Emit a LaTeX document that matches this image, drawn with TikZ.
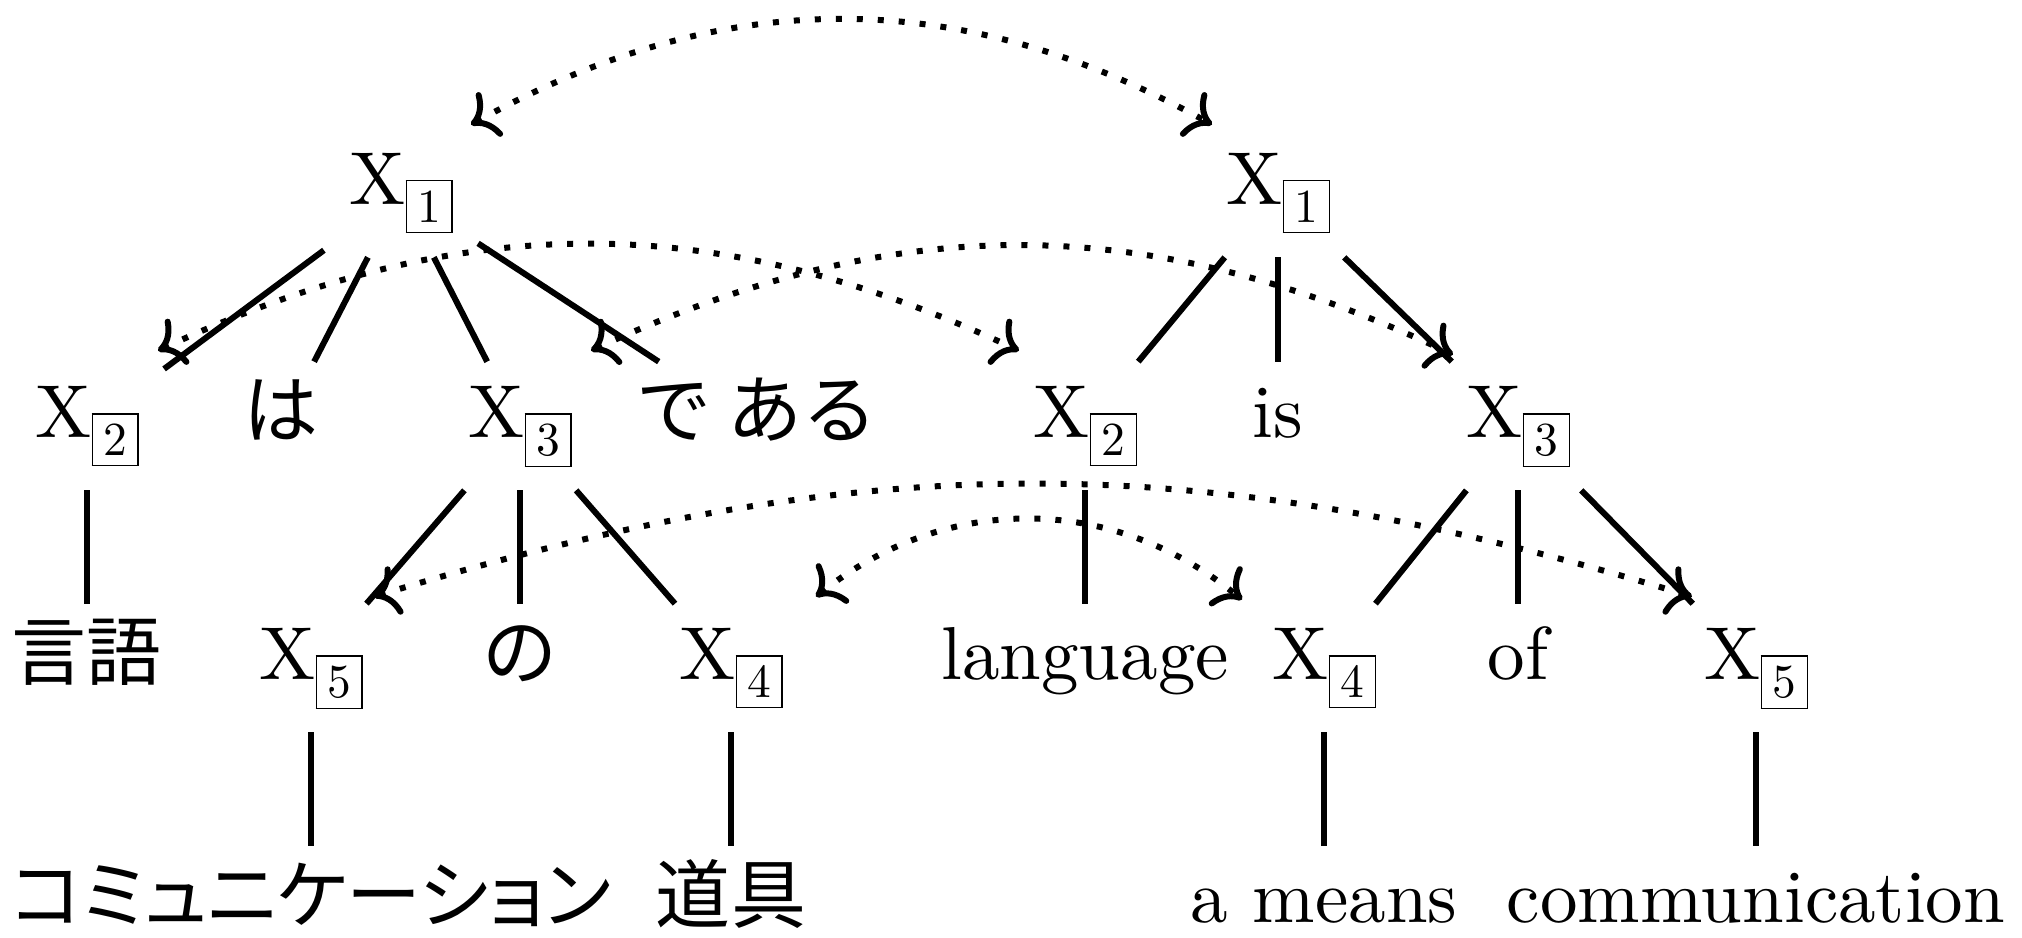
\documentclass[tikz,border=0pt]{standalone}
\usepackage{fontspec}
\setmainfont{lmroman10-regular.otf}
\newfontfamily\jp{Noto Sans CJK JP}
\newfontfamily\jpp[RawFeature=+palt]{Noto Sans CJK JP}
\usetikzlibrary{arrows.meta}
\newcommand\bx[1]{\raisebox{-0.36cm}{\setlength\fboxsep{0.18cm}\setlength\fboxrule{0.025cm}\fbox{\rule{0pt}{0.65cm}\hspace{0.03cm}{\fontsize{27}{30}\selectfont #1}\hspace{0.03cm}}}}
\newcommand\Xs[1]{X\bx{#1}}
\begin{document}
\begin{tikzpicture}[x=0.02cm,y=0.02cm,
  every node/.style={font=\fontsize{42.7}{50}\selectfont, text height=1.04cm, text depth=0.56cm, inner xsep=0.5cm, inner ysep=0.48cm, anchor=base},
  edge/.style={line width=0.12cm},
  arc/.style={line width=0.12cm, dash pattern=on 0.12cm off 0.3cm, arrows={To[scale=1.5]-To[scale=1.5]}}]
\useasboundingbox (0,0) rectangle (2022,937);
% row 1
\node (x1l) at (401,732) {\Xs{1}};
\node (x1r) at (1278,732) {\Xs{1}};
% row 2
\node (x2l) at (87,499) {\Xs{2}};
\node (ha) at (281,499) {\jp は};
\node (x3l) at (520,499) {\Xs{3}};
\node (dearu) at (757,499) {\jp で ある};
\node (x2r) at (1085,499) {\Xs{2}};
\node (is) at (1278,499) {is};
\node (x3r) at (1518,499) {\Xs{3}};
% row 3
\node (gengo) at (87,257) {\jp 言語};
\node (x5l) at (311,257) {\Xs{5}};
\node (no) at (520,257) {\jp の};
\node (x4l) at (731,257) {\Xs{4}};
\node (lang) at (1085,257) {language};
\node (x4r) at (1324,257) {\Xs{4}};
\node (of) at (1518,257) {of};
\node (x5r) at (1756,257) {\Xs{5}};
% row 4
\node (comm) at (311,15) {\jpp コミュニケーション};
\node (dougu) at (731,15) {\jp 道具};
\node (means) at (1324,15) {a means};
\node (commu) at (1756,15) {communication};
% tree edges
\draw[edge] (x1l) -- (x2l);
\draw[edge] (x1l) -- (ha);
\draw[edge] (x1l) -- (x3l);
\draw[edge] (x1l) -- (dearu);
\draw[edge] (x1r) -- (x2r);
\draw[edge] (x1r) -- (is);
\draw[edge] (x1r) -- (x3r);
\draw[edge] (x2l) -- (gengo);
\draw[edge] (x3l) -- (x5l);
\draw[edge] (x3l) -- (no);
\draw[edge] (x3l) -- (x4l);
\draw[edge] (x2r) -- (lang);
\draw[edge] (x3r) -- (x4r);
\draw[edge] (x3r) -- (of);
\draw[edge] (x3r) -- (x5r);
\draw[edge] (x5l) -- (comm);
\draw[edge] (x4l) -- (dougu);
\draw[edge] (x4r) -- (means);
\draw[edge] (x5r) -- (commu);
% alignment arcs
\draw[arc] ([shift={(70,4)}]x1l.north) to[bend left=29] ([shift={(-66,4)}]x1r.north);
\draw[arc] ([shift={(71,11)}]x2l.north) to[bend left=25] ([shift={(-66,11)}]x2r.north);
\draw[arc] ([shift={(71,11)}]x3l.north) to[bend left=25] ([shift={(-65,7)}]x3r.north);
\draw[arc] ([shift={(63,7)}]x5l.north) to[bend left=17] ([shift={(-64,7)}]x5r.north);
\draw[arc] ([shift={(85,7)}]x4l.north) to[bend left=39] ([shift={(-82,4)}]x4r.north);
\end{tikzpicture}
\end{document}
